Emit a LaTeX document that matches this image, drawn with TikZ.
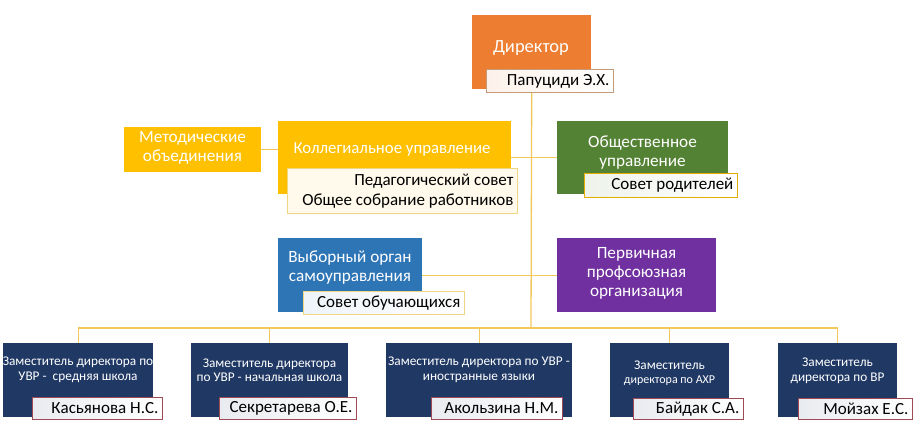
\documentclass[tikz,border=0pt]{standalone}
\usepackage{fontspec}
\setmainfont{Carlito}
\definecolor{dirorange}{HTML}{ED7D31}
\definecolor{colgold}{HTML}{FFC000}
\definecolor{pubgreen}{HTML}{548235}
\definecolor{selfblue}{HTML}{2E75B6}
\definecolor{unionviolet}{HTML}{7030A0}
\definecolor{depnavy}{HTML}{203864}
\definecolor{linkgold}{HTML}{F2C75C}
\definecolor{dirline}{HTML}{C49A78}
\definecolor{depline}{HTML}{A04A55}
\definecolor{paleline}{HTML}{F0D680}
\begin{document}
\begin{tikzpicture}[x=1pt,y=-1pt,
    unit/.style={rectangle, inner sep=0pt, anchor=north west, draw=none},
    title/.style={text=white, align=center, inner sep=0pt,
                  font=\fontsize{17.2}{19}\selectfont},
    deptitle/.style={text=white, align=center, inner sep=0pt,
                  font=\fontsize{13.3}{14.5}\selectfont},
    person/.style={rectangle, anchor=north west, inner ysep=0pt, inner xsep=4pt,
                  align=flush right, line width=0.8pt, text=black,
                  font=\fontsize{17}{19}\selectfont},
    link/.style={draw=linkgold, line width=1.3pt}]

    \useasboundingbox (0,0) rectangle (920,436);

    % boxes
    \node[unit, fill=dirorange, minimum width=119, minimum height=74]
        (dir) at (472,15) {};
    \node[unit, fill=colgold, minimum width=137, minimum height=45]
        (method) at (124,127) {};
    \node[unit, fill=colgold, minimum width=233, minimum height=73]
        (colleg) at (278,121) {};
    \node[unit, fill=pubgreen, minimum width=171, minimum height=73]
        (public) at (557,121) {};
    \node[unit, fill=selfblue, minimum width=144, minimum height=74]
        (self) at (278,238) {};
    \node[unit, fill=unionviolet, minimum width=159, minimum height=74]
        (union) at (557,238) {};

    \node[unit, fill=depnavy, minimum width=150, minimum height=74]
        (dep1) at (3,343) {};
    \node[unit, fill=depnavy, minimum width=157, minimum height=74]
        (dep2) at (191,343) {};
    \node[unit, fill=depnavy, minimum width=186, minimum height=74]
        (dep3) at (386,343) {};
    \node[unit, fill=depnavy, minimum width=119, minimum height=74]
        (dep4) at (610,343) {};
    \node[unit, fill=depnavy, minimum width=119, minimum height=74]
        (dep5) at (778,343) {};

    \coordinate (busL) at (78,328);
    \coordinate (busR) at (838,328);
    \coordinate (trunk) at (531,328);

    % connectors
    \draw[link] (dir.south) -- (trunk);
    \draw[link] (method.east) -- (method.east -| colleg.west);
    \draw[link] (colleg.east) -- (public.west);
    \draw[link] (self.east) -- (union.west);
    \draw[link] (busL) -- (busR);
    \foreach \d in {dep1,dep2,dep3,dep4,dep5}
        \draw[link] (\d.north |- busL) -- (\d.north);

    % redraw boxes over lines
    \fill[dirorange] (dir.north west) rectangle (dir.south east);
    \fill[colgold] (method.north west) rectangle (method.south east);
    \fill[colgold] (colleg.north west) rectangle (colleg.south east);
    \fill[pubgreen] (public.north west) rectangle (public.south east);
    \fill[selfblue] (self.north west) rectangle (self.south east);
    \fill[unionviolet] (union.north west) rectangle (union.south east);

    % titles
    \node[title, font=\fontsize{18.5}{20}\selectfont] (dirT) at (531,48) {Директор};
    \node[title] (methodT) at (192.5,148) {Методические\\объединения};
    \node[title, font=\fontsize{16.8}{19}\selectfont] (collegT) at (392,149)
        {Коллегиальное управление};
    \node[title] (publicT) at (642.5,153) {Общественное\\управление};
    \node[title] (selfT) at (350,268) {Выборный орган\\самоуправления};
    \node[title] (unionT) at (636.5,273) {Первичная\\профсоюзная\\организация};

    \node[deptitle] (dep1T) at (78,370)
        {Заместитель директора по\\УВР -\ \ средняя школа};
    \node[deptitle] (dep2T) at (269.5,370)
        {Заместитель директора\\по УВР - начальная школа};
    \node[deptitle] (dep3T) at (479,370)
        {Заместитель директора по УВР -\\иностранные языки};
    \node[deptitle] (dep4T) at (669.5,373)
        {Заместитель\\{\fontsize{12}{14}\selectfont директора по АХР}};
    \node[deptitle] (dep5T) at (837.5,371)
        {Заместитель\\директора по ВР};

    % persons
    \node[person, draw=dirline, left color=dirorange!10, right color=white,
        text width=119, minimum height=23] (dirP) at (486,69) {Папуциди Э.Х.};
    \node[person, draw=paleline, fill=colgold!8, text width=222,
        minimum height=45, font=\fontsize{17}{20}\selectfont] (collegP) at (287,168)
        {Педагогический совет\\Общее собрание работников};
    \node[person, draw=colgold!90!black, left color=pubgreen!10, right color=white,
        text width=145, minimum height=24] (publicP) at (584,173) {Совет родителей};
    \node[person, draw=paleline, left color=selfblue!8, right color=white,
        text width=153, minimum height=23] (selfP) at (303,291) {Совет обучающихся};

    \node[person, draw=depline, left color=depnavy!10, right color=white,
        text width=122, minimum height=22] (dep1P) at (32,397) {Касьянова Н.С.};
    \node[person, draw=depline, left color=depnavy!10, right color=white,
        text width=129, minimum height=22] (dep2P) at (219,397) {Секретарева О.Е.};
    \node[person, draw=depline, left color=depnavy!10, right color=white,
        text width=123, minimum height=22] (dep3P) at (431,397) {Акользина Н.М.};
    \node[person, draw=depline, left color=depnavy!10, right color=white,
        text width=102, minimum height=21] (dep4P) at (633,398) {Байдак С.А.};
    \node[person, draw=depline, left color=depnavy!10, right color=white,
        text width=106, minimum height=21] (dep5P) at (798,398) {Мойзах Е.С.};
\end{tikzpicture}
\end{document}
